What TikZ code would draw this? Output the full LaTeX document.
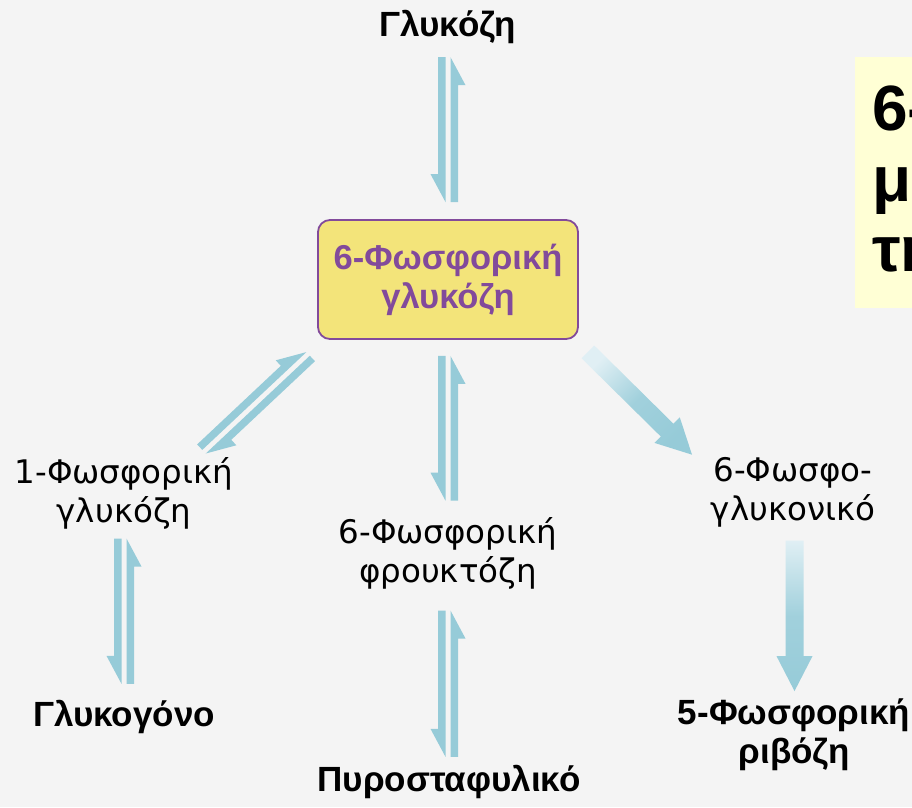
\documentclass[tikz,border=0pt]{standalone}
\usepackage{fontspec}
\setmainfont{Liberation Sans}
\newfontfamily\labelfont{DejaVu Sans}
\usetikzlibrary{calc}
\definecolor{bggray}{RGB}{244,244,244}
\definecolor{arrowblue}{RGB}{150,203,216}
\definecolor{paleblue}{RGB}{224,239,244}
\definecolor{hubyellow}{RGB}{243,228,122}
\definecolor{hubpurple}{RGB}{130,74,155}
\definecolor{noteyellow}{RGB}{255,255,213}

\begin{document}
\begin{tikzpicture}[
    x=1pt, y=-1pt,
    metabolite/.style={inner sep=0pt, align=center, font=\labelfont\fontsize{32.5}{39}\selectfont},
    endproduct/.style={inner sep=0pt, align=center, font=\bfseries\fontsize{35}{39}\selectfont},
    hub/.style={rectangle, draw=hubpurple, line width=1.8pt, fill=hubyellow, rounded corners=12pt, minimum width=260pt, minimum height=119pt, align=center, text=hubpurple, font=\bfseries\fontsize{34.5}{39}\selectfont},
    eqpair/.style 2 args={fill=arrowblue, to path={
        ($(\tikztostart)!2.5pt!#1:(\tikztotarget)$) -- ($(\tikztotarget)!2.5pt!#2:(\tikztostart)$)
        -- ($($(\tikztotarget)!28pt!(\tikztostart)$)!17.5pt!#2:(\tikztostart)$)
        -- ($($(\tikztotarget)!28pt!(\tikztostart)$)!10pt!#2:(\tikztostart)$)
        -- ($(\tikztostart)!10pt!#1:(\tikztotarget)$) -- cycle
        ($(\tikztotarget)!2.5pt!#1:(\tikztostart)$) -- ($(\tikztostart)!2.5pt!#2:(\tikztotarget)$)
        -- ($($(\tikztostart)!28pt!(\tikztotarget)$)!17.5pt!#2:(\tikztotarget)$)
        -- ($($(\tikztostart)!28pt!(\tikztotarget)$)!10pt!#2:(\tikztotarget)$)
        -- ($(\tikztotarget)!10pt!#1:(\tikztostart)$) -- cycle}},
    vpair/.style={eqpair={-90}{90}},
    dpair/.style={eqpair={90}{-90}},
    fatarrow/.style={to path={
        ($(\tikztostart)!9pt!90:(\tikztotarget)$)
        -- ($($(\tikztotarget)!35pt!(\tikztostart)$)!9pt!-90:(\tikztostart)$)
        -- ($($(\tikztotarget)!35pt!(\tikztostart)$)!18pt!-90:(\tikztostart)$)
        -- (\tikztotarget)
        -- ($($(\tikztotarget)!35pt!(\tikztostart)$)!18pt!90:(\tikztostart)$)
        -- ($($(\tikztotarget)!35pt!(\tikztostart)$)!9pt!90:(\tikztostart)$)
        -- ($(\tikztostart)!9pt!-90:(\tikztotarget)$) -- cycle}}
]

    % Canvas
    \useasboundingbox (0,0) rectangle (912,807);
    \clip (0,0) rectangle (912,807);
    \fill[bggray] (0,0) rectangle (912,807);

    % Side note (cut off at the right edge)
    \fill[noteyellow] (855,57) rectangle (920,308);
    \node[anchor=north west, inner sep=0pt, align=left, font=\bfseries\fontsize{64}{70.5}\selectfont] (note) at (872,86) {6-\\με\\τη};

    % Hub
    \node[hub] (g6p) at (448,279.5) {6-Φωσφορική\\γλυκόζη};

    % Metabolites around the hub
    \node[endproduct] (glc) at (448,26.8) {Γλυκόζη};
    \node[metabolite] (g1p) at (124,493.4) {1-Φωσφορική\\γλυκόζη};
    \node[metabolite] (f6p) at (448,553.4) {6-Φωσφορική\\φρουκτόζη};
    \node[metabolite] (pg6) at (793,492.4) {6-Φωσφο-\\γλυκονικό};

    % End products
    \node[endproduct] (glycogen) at (124,716.8) {Γλυκογόνο};
    \node[endproduct] (pyr) at (449,781.8) {Πυροσταφυλικό};
    \node[endproduct] (r5p) at (794,734.3) {5-Φωσφορική\\ριβόζη};

    % Reversible steps
    \fill[vpair] ($(glc.south)+(0,13.4)$) to ($(g6p.north)+(0,-17)$);
    \fill[dpair] ($(g1p.north)+(80,-5.6)$) to ($(g6p.south west)+(-9,14)$);
    \fill[vpair] ($(g6p.south)+(0,16)$) to ($(f6p.north)+(0,-16.6)$);
    \fill[vpair] ($(f6p.south)+(0,21)$) to ($(pyr.north)+(-1,-8)$);
    \fill[vpair] ($(g1p.south)+(0,9)$) to ($(glycogen.north)+(0,-16)$);

    % One-way steps
    \shade[fatarrow, top color=paleblue, bottom color=arrowblue, middle color=arrowblue!85!paleblue, shading angle=45] ($(g6p.south east)+(9,12)$) to ($(pg6.north)+(-101,-2.6)$);
    \shade[fatarrow, top color=paleblue, bottom color=arrowblue, middle color=arrowblue!85!paleblue] ($(pg6.south)+(1.5,13)$) to ($(r5p.north)+(0.5,-7)$);

\end{tikzpicture}
\end{document}
